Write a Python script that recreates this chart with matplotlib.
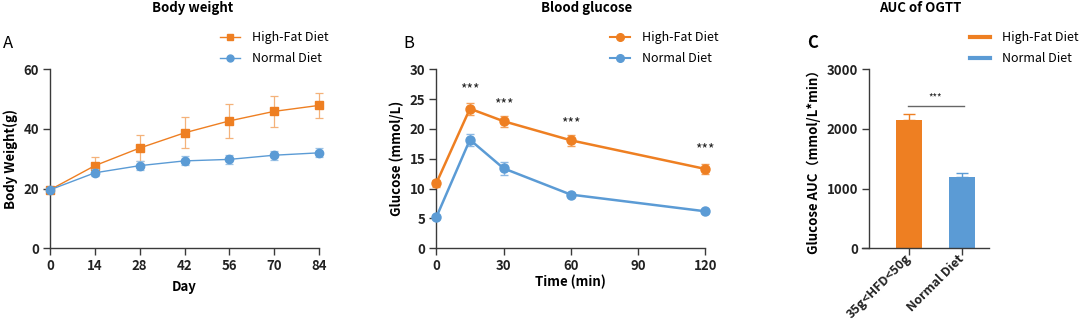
import matplotlib
matplotlib.use("Agg")
import matplotlib.pyplot as plt
from matplotlib.lines import Line2D
import numpy as np

plt.rcParams['font.family'] = ['Noto Sans CJK SC', 'DejaVu Sans']

ORANGE = "#EE7F22"
BLUE = "#5B9BD5"
AXC = "#3a3a3a"

# Panel A data
days = [0, 14, 28, 42, 56, 70, 84]
hfd_w = [19.6, 27.7, 33.6, 38.7, 42.7, 45.9, 47.9]
hfd_w_err = [0.6, 2.8, 4.4, 5.2, 5.8, 5.2, 4.3]
nd_w = [19.6, 25.3, 27.7, 29.3, 29.8, 31.2, 32.0]
nd_w_err = [0.5, 1.2, 1.4, 1.5, 1.5, 1.5, 1.5]

# Panel B data
times = [0, 15, 30, 60, 120]
hfd_g = [10.9, 23.4, 21.3, 18.1, 13.3]
hfd_g_err = [0.6, 1.0, 0.9, 0.9, 0.9]
nd_g = [5.2, 18.2, 13.4, 9.0, 6.2]
nd_g_err = [0.3, 1.0, 1.1, 0.3, 0.3]
star_times = [15, 30, 60, 120]
star_y = [26.7, 24.1, 21.0, 16.6]

# Panel C data
groups = ["35g<HFD<50g", "Normal Diet"]
auc = [2158, 1193]
auc_err = [85, 62]
sig_y = 2381

W, H = 1080, 322
fig = plt.figure(figsize=(W/100, H/100), dpi=100)

def ax_rect(l, r, t, b):
    return [l/W, 1 - b/H, (r-l)/W, (b-t)/H]

def style(ax):
    for s in ['top', 'right']:
        ax.spines[s].set_visible(False)
    for s in ['left', 'bottom']:
        ax.spines[s].set_color(AXC)
        ax.spines[s].set_linewidth(1.0)
    ax.tick_params(direction='out', length=5, width=1.0, color=AXC,
                   labelsize=9.5, pad=3)
    for lab in ax.get_xticklabels() + ax.get_yticklabels():
        lab.set_fontweight('bold')
        lab.set_color('#222222')

LEG = dict(loc='center left', frameon=False, fontsize=9, handlelength=1.6,
           handletextpad=0.9, labelspacing=0.65, borderpad=0.0)

# ---- Panel A
axA = fig.add_axes(ax_rect(50, 319, 69.3, 248.3))
axA.errorbar(days, hfd_w, yerr=hfd_w_err, color=ORANGE, lw=1.0, marker='s', ms=6,
             capsize=3, elinewidth=0.9, ecolor="#F4B27A", capthick=0.9, clip_on=False, zorder=3)
axA.errorbar(days, nd_w, yerr=nd_w_err, color=BLUE, lw=1.0, marker='o', ms=6,
             capsize=3, elinewidth=0.9, ecolor="#9DC3E6", capthick=0.9, clip_on=False, zorder=4)
axA.set_xlim(0, 84)
axA.set_ylim(0, 60)
axA.set_xticks(days)
axA.set_yticks([0, 20, 40, 60])
style(axA)
axA.set_xlabel("Day", fontsize=9.5, fontweight='bold', labelpad=5)
axA.set_ylabel("Body Weight(g)", fontsize=9.5, fontweight='bold', labelpad=4)
fig.text(193/W, 1 - 8/H, "Body weight", ha='center', va='center', fontsize=9.5, fontweight='bold')
fig.text(3/W, 1 - 43/H, "A", ha='left', va='center', fontsize=12)
hA = [Line2D([], [], color=ORANGE, marker='s', ms=5, lw=1.0),
      Line2D([], [], color=BLUE, marker='o', ms=5, lw=1.0)]
fig.legend(hA, ["High-Fat Diet", "Normal Diet"], bbox_to_anchor=(214/W, 1 - 48/H), **LEG)

# ---- Panel B
axB = fig.add_axes(ax_rect(436.3, 705.3, 69.3, 248.3))
axB.errorbar(times, hfd_g, yerr=hfd_g_err, color=ORANGE, lw=1.8, marker='o', ms=6.5,
             capsize=3, elinewidth=1.0, ecolor="#F4A05A", capthick=1.0, clip_on=False, zorder=3)
axB.errorbar(times, nd_g, yerr=nd_g_err, color=BLUE, lw=1.8, marker='o', ms=6.5,
             capsize=3, elinewidth=1.0, ecolor="#8CB8E3", capthick=1.0, clip_on=False, zorder=4)
for t, y in zip(star_times, star_y):
    axB.text(t, y, "***", ha='center', va='center', fontsize=10, color='#222222')
axB.set_xlim(0, 120)
axB.set_ylim(0, 30)
axB.set_xticks([0, 30, 60, 90, 120])
axB.set_yticks([0, 5, 10, 15, 20, 25, 30])
style(axB)
axB.set_xlabel("Time (min)", fontsize=9.5, fontweight='bold', labelpad=1)
axB.set_ylabel("Glucose (mmol/L)", fontsize=9.5, fontweight='bold', labelpad=4)
fig.text(587/W, 1 - 8/H, "Blood glucose", ha='center', va='center', fontsize=9.5, fontweight='bold')
fig.text(403/W, 1 - 43/H, "B", ha='left', va='center', fontsize=12)
hB = [Line2D([], [], color=ORANGE, marker='o', ms=5.5, lw=1.5),
      Line2D([], [], color=BLUE, marker='o', ms=5.5, lw=1.5)]
fig.legend(hB, ["High-Fat Diet", "Normal Diet"], bbox_to_anchor=(604/W, 1 - 48/H), **LEG)

# ---- Panel C
axC = fig.add_axes(ax_rect(861.7, 989, 69.3, 248.3))
xpos = np.arange(len(groups))
bar_colors = [ORANGE, BLUE]
axC.bar(xpos, auc, width=0.5, color=bar_colors, edgecolor='none', zorder=2)
for xi, v, e, c in zip(xpos, auc, auc_err, bar_colors):
    axC.errorbar([xi], [v], yerr=[[0], [e]], fmt='none', ecolor=c,
                 elinewidth=1.0, capsize=4, capthick=1.0, zorder=1)
axC.plot([-0.02, 1.03], [sig_y, sig_y], color='#666666', lw=1.0)
axC.text(0.5, sig_y + 60, "***", ha='center', va='bottom', fontsize=7, color='#222222')
axC.set_xlim(-0.895, 1.511)
axC.set_ylim(0, 3000)
axC.spines['left'].set_position(('data', -0.751))
axC.set_xticks(xpos)
axC.set_xticklabels(groups)
axC.set_yticks([0, 1000, 2000, 3000])
style(axC)
axC.tick_params(axis='x', labelsize=9, pad=1)
for lab in axC.get_xticklabels():
    lab.set_rotation(45)
    lab.set_ha('right')
    lab.set_va('center')
    lab.set_rotation_mode('anchor')
axC.set_ylabel("Glucose AUC（mmol/L*min）", fontsize=9.5, fontweight='bold', labelpad=4)
fig.text(920/W, 1 - 8/H, "AUC of OGTT", ha='center', va='center', fontsize=9.5, fontweight='bold')
fig.text(807/W, 1 - 43/H, "C", ha='left', va='center', fontsize=12, fontweight='bold')
hC = [Line2D([], [], color=ORANGE, lw=3),
      Line2D([], [], color=BLUE, lw=3)]
fig.legend(hC, ["High-Fat Diet", "Normal Diet"], bbox_to_anchor=(964/W, 1 - 48/H), **LEG)

fig.savefig("out.png", dpi=100)
